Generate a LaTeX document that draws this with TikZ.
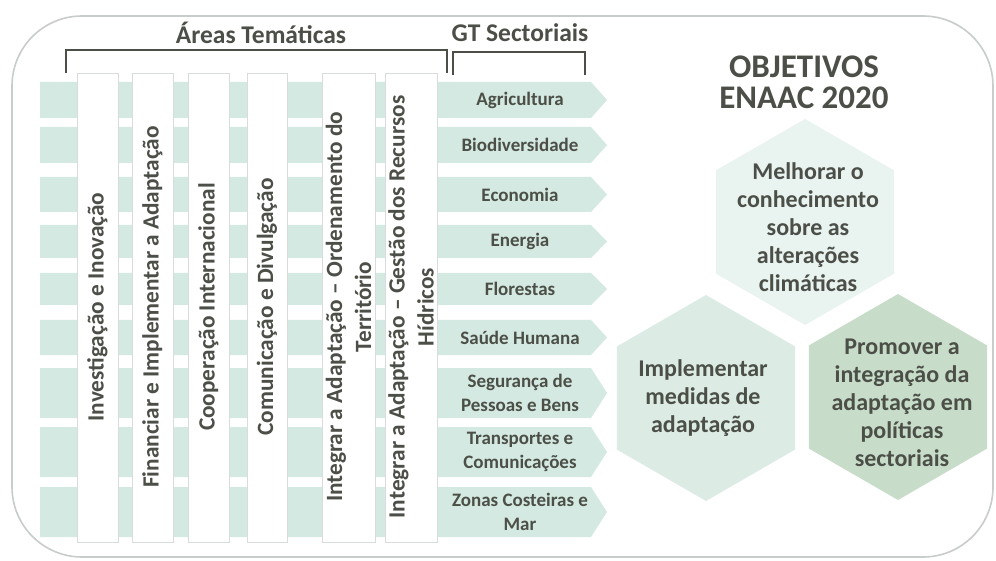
\documentclass[tikz,border=0pt]{standalone}
\usepackage{fontspec}
\setmainfont{Carlito}
\usetikzlibrary{shapes.geometric}
\definecolor{txt}{HTML}{4B4F47}
\definecolor{band}{HTML}{D4E9E1}
\definecolor{hexA}{HTML}{E9F3F0}
\definecolor{hexB}{HTML}{DCECE5}
\definecolor{hexC}{HTML}{C8DDC9}
\definecolor{framec}{HTML}{C8CCCA}
\definecolor{colb}{HTML}{D8DCDA}
\begin{document}
\begin{tikzpicture}[x=1pt,y=-1pt,
  bandlbl/.style={text=txt,font=\fontsize{19}{24}\selectfont\bfseries,align=center,inner sep=0pt},
  colbox/.style={draw=colb,fill=white,line width=0.8pt},
  coltxt/.style={text=txt,font=\fontsize{23.3}{29}\selectfont\bfseries,align=center,rotate=90,inner sep=0pt},
  bracket/.style={draw=txt,line width=2pt},
  head/.style={text=txt,font=\fontsize{25.5}{30}\selectfont\bfseries,inner sep=0pt},
  objtxt/.style={text=txt,font=\fontsize{33}{36}\selectfont\bfseries,inner sep=0pt},
  hexshape/.style={regular polygon,regular polygon sides=6,shape border rotate=30,minimum size=206pt,inner sep=0pt,draw=none},
  hextxt/.style={text=txt,font=\fontsize{24}{28}\selectfont\bfseries,align=center,inner sep=0pt}]
\useasboundingbox (0,0) rectangle (996,561);
\fill[white] (0,0) rectangle (996,561);
\draw[framec,line width=1.6pt,rounded corners=70pt] (12,16) rectangle (993,557);

% bands
\foreach \t/\b/\n/\lbl in {82/118/r1/Agricultura,127/163/r2/Biodiversidade,177/212/r3/Economia,225/258/r4/Energia,273/305/r5/Florestas,320/355/r6/Saúde Humana,368/418/r7/{Segurança de\\Pessoas e Bens},427/477/r8/{Transportes e\\Comunicações},487/537/r9/{Zonas Costeiras e\\Mar}}{
  \fill[band] (40,\t) -- (591,\t) -- (607,{(\t+\b)/2}) -- (591,\b) -- (40,\b) -- cycle;
  \node[bandlbl] (\n) at (520,{(\t+\b)/2}) {\lbl};
}

% columns
\foreach \l/\r/\n in {77/118/c1,132/173/c2,188/229/c3,247/287/c4,322/375/c5,385/437/c6}{
  \draw[colbox] (\l,73) rectangle (\r,542);
  \coordinate (\n) at ({(\l+\r)/2},307);
}
\node[coltxt] (t1) at (c1) {Investigação e Inovação};
\node[coltxt] (t2) at (c2) {Financiar e Implementar a Adaptação};
\node[coltxt] (t3) at (c3) {Cooperação Internacional};
\node[coltxt] (t4) at (c4) {Comunicação e Divulgação};
\node[coltxt] (t5) at (c5) {Integrar a Adaptação – Ordenamento do\\Território};
\node[coltxt] (t6) at (c6) {Integrar a Adaptação – Gestão dos Recursos\\Hídricos};

% brackets
\draw[bracket] (66,73) -- (66,50) -- (447,50) -- (447,73);
\draw[bracket] (453,75) -- (453,52) -- (585,52) -- (585,75);
\node[head] (areas) at (261,33) {Áreas Temáticas};
\node[head] (gt) at (520,33) {GT Sectoriais};

% objectives
\node[objtxt] (obj1) at (804,67) {OBJETIVOS};
\node[objtxt] (obj2) at (804,98) {ENAAC 2020};

\node[hexshape,fill=hexA] (h1) at (805,222) {};
\node[hexshape,fill=hexB] (h2) at (706,398) {};
\node[hexshape,fill=hexC] (h3) at (898,397) {};
\node[hextxt] (h1t) at (808,227) {Melhorar o\\conhecimento\\sobre as\\alterações\\climáticas};
\node[hextxt] (h2t) at (703,398) {Implementar\\medidas de\\adaptação};
\node[hextxt] (h3t) at (902,403) {Promover a\\integração da\\adaptação em\\políticas\\sectoriais};
\end{tikzpicture}
\end{document}
